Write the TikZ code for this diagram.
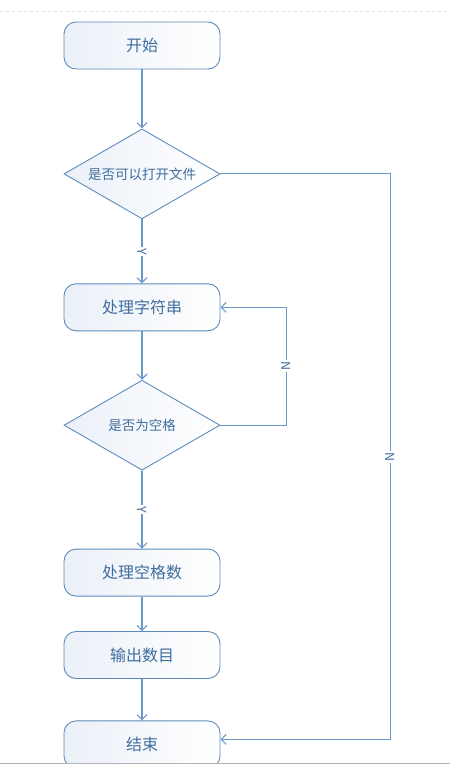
\documentclass[tikz,border=0pt]{standalone}
\usepackage{fontspec}
\usepackage{tikz}
\usetikzlibrary{positioning,shapes.geometric,arrows.meta}
\newfontfamily\cjk{Noto Sans CJK SC}
\definecolor{FlowLine}{HTML}{6A98CB}
\definecolor{FlowEdge}{HTML}{5F8BBA}
\definecolor{FlowText}{HTML}{3F6E9E}
\definecolor{FlowFill}{HTML}{EBF0F8}

\begin{document}
\begin{tikzpicture}[x=1pt, y=-1pt, >={Straight Barb[length=5pt,width=10pt]},
                    box/.style={draw=FlowEdge, line width=0.9pt, rounded corners=12pt,
                                minimum width=156pt, minimum height=47pt,
                                left color=FlowFill, right color=white, text=FlowText,
                                font=\cjk\fontsize{16}{18}\selectfont},
                    decision/.style={diamond, draw=FlowEdge, line width=0.9pt, shape aspect=1.73,
                                     minimum width=156pt, minimum height=90pt, inner sep=0pt,
                                     left color=FlowFill, right color=white, text=FlowText,
                                     font=\cjk\fontsize{13.5}{16}\selectfont},
                    flow/.style={draw=FlowLine, line width=1.1pt, ->},
                    tag/.style={fill=white, inner sep=1.5pt, rotate=-90, text=FlowText,
                                font=\cjk\fontsize{12.5}{13}\selectfont}]
\useasboundingbox (0,0) rectangle (450,768);
\draw[gray!25, dashed] (0,11) -- (450,11);
\begin{scope}
\clip (0,0) rectangle (450,763);
\node[box] (start) at (142,45.5) {开始};
\node[decision, below=59pt of start] (openq) {是否可以打开文件};
\node[box, below=64pt of openq] (proc) {处理字符串};
\node[decision, below=48.5pt of proc] (spaceq) {是否为空格};
\node[box, below=78pt of spaceq] (count) {处理空格数};
\node[box, below=34.5pt of count] (output) {输出数目};
\node[box, below=41.5pt of output] (finish) {结束};
\draw[flow] (start) -- (openq);
\draw[flow] (openq) -- node[tag] {Y} (proc);
\draw[flow] (proc) -- (spaceq);
\draw[flow] (spaceq) -- node[tag] {Y} (count);
\draw[flow] (count) -- (output);
\draw[flow] (output) -- (finish);
\draw[flow] (spaceq.east) -- ++(66,0) |- node[tag, pos=0.25] {N} (proc.east);
\draw[flow] (openq.east) -- ++(170,0) |- node[tag, pos=0.25] {N} ([yshift=5pt]finish.east);
\end{scope}
\draw[gray!60, line width=1pt] (0,763.5) -- (450,763.5);
\end{tikzpicture}
\end{document}
